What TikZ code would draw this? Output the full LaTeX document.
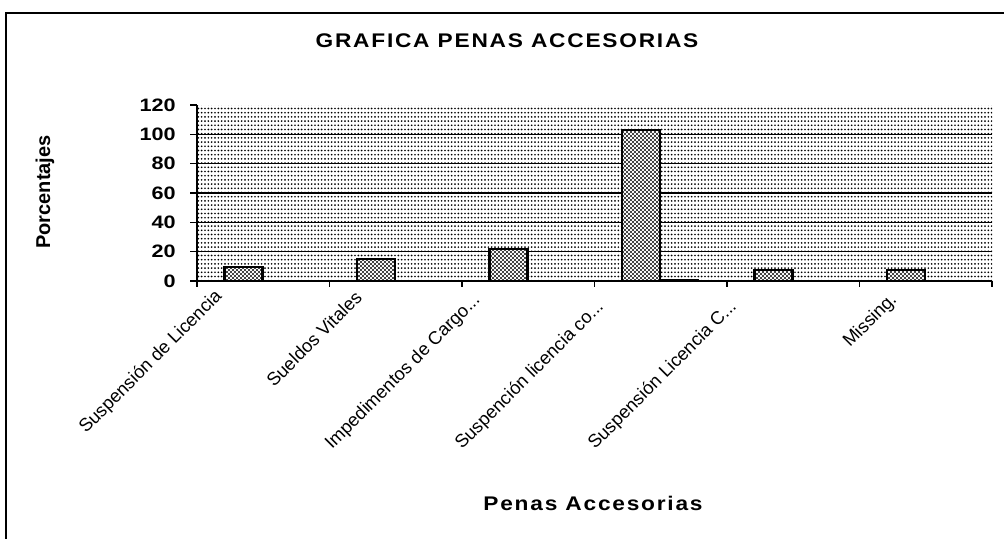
\documentclass[tikz,border=0pt]{standalone}
\usepackage{fontspec}
\setmainfont{Liberation Sans}
\usetikzlibrary{patterns}
\pgfdeclarepatternformonly{bgdots}{\pgfpoint{-1pt}{-1pt}}{\pgfpoint{3.5pt}{4.15pt}}{\pgfpoint{2.5pt}{3.15pt}}{\pgfpathcircle{\pgfpoint{1.25pt}{1.575pt}}{0.7pt}\pgfusepath{fill}}
\pgfdeclarepatternformonly{bardots}{\pgfpoint{-1pt}{-1pt}}{\pgfpoint{4pt}{4pt}}{\pgfpoint{3pt}{3pt}}{\pgfpathcircle{\pgfpoint{0.75pt}{0.75pt}}{0.8pt}\pgfpathcircle{\pgfpoint{2.25pt}{2.25pt}}{0.8pt}\pgfusepath{fill}}
\tikzset{
  frameline/.style={line width=1.5pt,black},
  gridline/.style={line width=1.1pt,black},
  axisline/.style={line width=0.9pt,black},
  barbox/.style={preaction={fill=white},pattern=bardots,draw=black,line width=1.6pt},
  ylab/.style={anchor=east,inner sep=0pt,font=\fontsize{13.5}{16}\selectfont\bfseries\addfontfeatures{FakeStretch=1.2}},
  catlab/.style={anchor=base west,rotate=45,inner sep=0pt,font=\fontsize{13.7}{16}\selectfont},
  bigtitle/.style={inner sep=0pt,font=\fontsize{14.8}{17}\selectfont\bfseries\addfontfeatures{FakeStretch=1.15,LetterSpace=9}},
  axtitle/.style={inner sep=0pt,font=\fontsize{15}{17}\selectfont\bfseries},
}
\begin{document}
\begin{tikzpicture}[x=0.75pt,y=-0.75pt]
\useasboundingbox (0,0) rectangle (1004,539);
\fill[white] (0,0) rectangle (1004,539);
% outer frame
\draw[frameline] (6,539) -- (6,13) -- (1004,13);
% plot area background
\fill[pattern=bgdots] (197,105) rectangle (992,281);
% grid lines
\foreach \v in {20,40,60,80,100} {
  \draw[gridline] (190,{281-\v*1.4667}) -- (992,{281-\v*1.4667});
}
\draw[axisline] (190,105) -- (197,105);
\draw[axisline] (190,281) -- (197,281);
% axes
\draw[axisline] (197,105) -- (197,281);
\draw[axisline] (197,281) -- (992,281);
\foreach \k in {0,...,6} {
  \draw[axisline] ({197+132.5*\k},281) -- ++(0,6);
}
% bars
\foreach \k/\v in {0/9.3,1/15.1,2/22,3/102.8,4/7.7,5/7.7} {
  \draw[barbox] ({224.5+132.5*\k},281) rectangle ++(38,{-\v*1.4667});
}
\draw[barbox] (660,281) rectangle (698,279.6);
% y tick labels
\node[ylab] (y0) at (176,281) {0};
\node[ylab] (y20) at (176,{281-20*1.4667}) {20};
\node[ylab] (y40) at (176,{281-40*1.4667}) {40};
\node[ylab] (y60) at (176,{281-60*1.4667}) {60};
\node[ylab] (y80) at (176,{281-80*1.4667}) {80};
\node[ylab] (y100) at (176,{281-100*1.4667}) {100};
\node[ylab] (y120) at (176,105) {120};
% category labels
\node[catlab] (c1) at (86,434) {Suspensión de Licencia};
\node[catlab] (c2) at (274,388) {Sueldos Vitales};
\node[catlab] (c3) at (332,450) {Impedimentos de Cargo...};
\node[catlab] (c4) at (462,450) {Suspención licencia co...};
\node[catlab] (c5) at (595,450) {Suspensión Licencia C...};
\node[catlab] (c6) at (850,348) {Missing.};
% titles
\node[bigtitle] (title) at (507,41) {GRAFICA PENAS ACCESORIAS};
\node[bigtitle] (xtitle) at (593,503) {Penas Accesorias};
\node[axtitle,rotate=90] (ytitle) at (45,192) {Porcentajes};
\end{tikzpicture}
\end{document}
